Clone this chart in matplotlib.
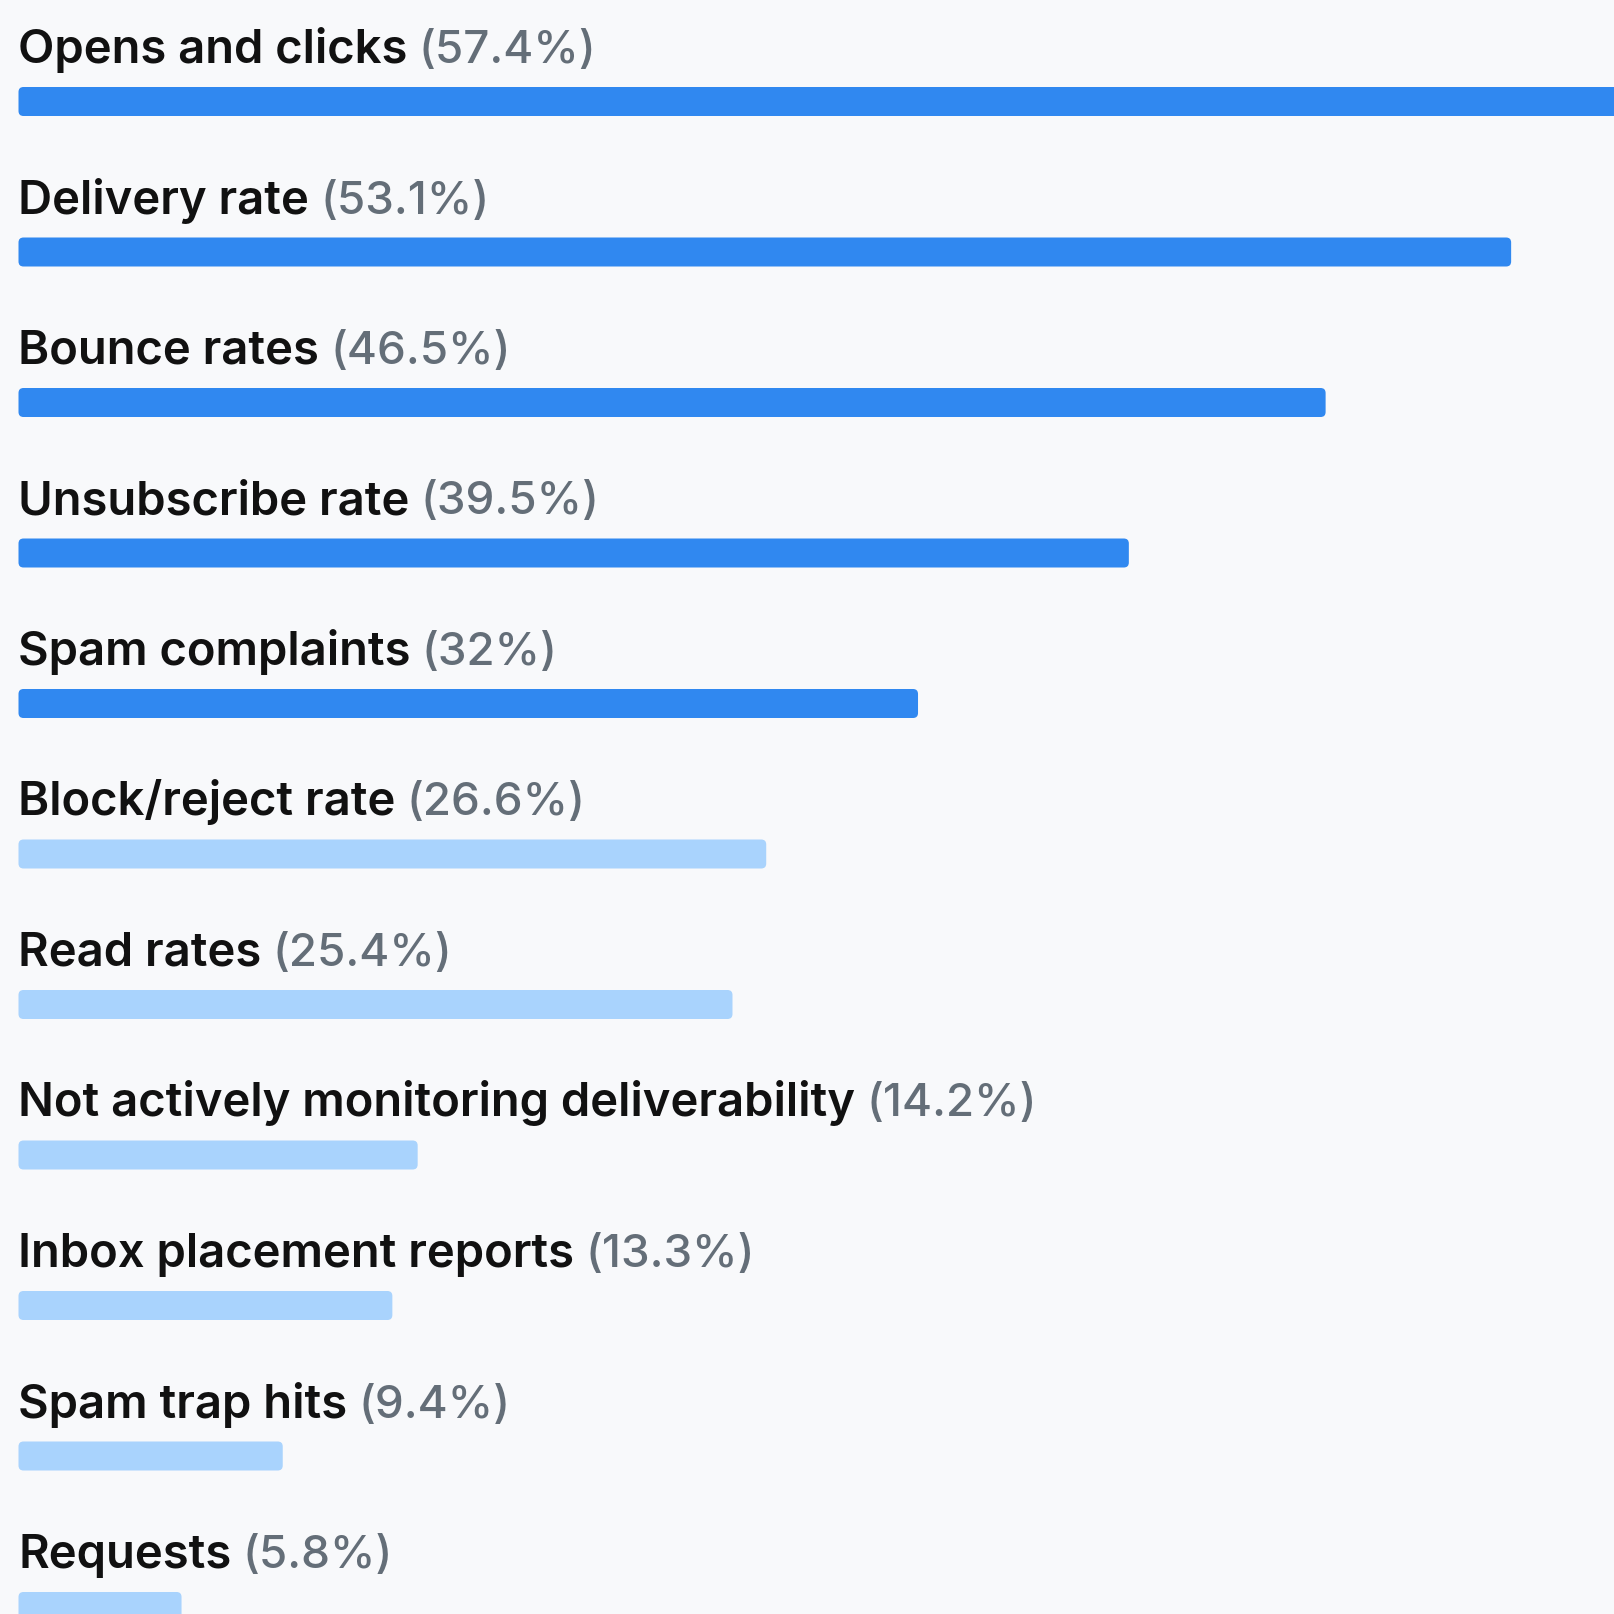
import matplotlib
matplotlib.use("Agg")
import matplotlib.pyplot as plt
from matplotlib.patches import FancyBboxPatch

# Data
labels = ["Opens and clicks", "Delivery rate", "Bounce rates", "Unsubscribe rate",
          "Spam complaints", "Block/reject rate", "Read rates",
          "Not actively monitoring deliverability", "Inbox placement reports",
          "Spam trap hits", "Requests"]
values = [57.4, 53.1, 46.5, 39.5, 32, 26.6, 25.4, 14.2, 13.3, 9.4, 5.8]
pct_text = ["57.4%", "53.1%", "46.5%", "39.5%", "32%", "26.6%", "25.4%",
            "14.2%", "13.3%", "9.4%", "5.8%"]
highlight = 5  # first five bars are dark blue

bg = "#f8f9fb"
dark = "#3088f0"
light = "#a9d3fd"
grey = "#646e78"

W = 1615
dpi = 100
fig = plt.figure(figsize=(W / dpi, W / dpi), dpi=dpi, facecolor=bg)
ax = fig.add_axes([0, 0, 1, 1])
ax.set_facecolor(bg)
ax.axis("off")

# pixel layout of the reference
px_left = 18.5
px_per_pct = 28.11
row_px = 150.5
first_center = 102.5
bar_px = 29.0

ax.set_xlim(-px_left / px_per_pct, (W - px_left) / px_per_pct)
ax.set_ylim((W - first_center) / row_px, -first_center / row_px)

bar_h = bar_px / row_px
rx = 5 / px_per_pct
ry = 5 / row_px

fontfam = ["Inter", "DejaVu Sans"]
fsize = 34

fig.canvas.draw()
renderer = fig.canvas.get_renderer()

for i, (lab, v, p) in enumerate(zip(labels, values, pct_text)):
    col = dark if i < highlight else light
    box = FancyBboxPatch((0, i - bar_h / 2), v, bar_h,
                         boxstyle="round,pad=0,rounding_size=%f" % rx,
                         mutation_aspect=ry / rx, fc=col, ec="none")
    ax.add_patch(box)

    ybase = i - bar_h / 2 - 25 / row_px
    t = ax.text(0.0, ybase, lab, fontsize=fsize, fontweight="semibold",
                family=fontfam, color="#111111", va="baseline", ha="left")
    bb = t.get_window_extent(renderer=renderer)
    xr = ax.transData.inverted().transform((bb.x1, bb.y0))[0]
    ax.text(xr + 11 / px_per_pct, ybase, "(" + p + ")", fontsize=33,
            family=fontfam, fontweight="medium", color=grey,
            va="baseline", ha="left")

fig.savefig("out.png", dpi=dpi, facecolor=bg)
